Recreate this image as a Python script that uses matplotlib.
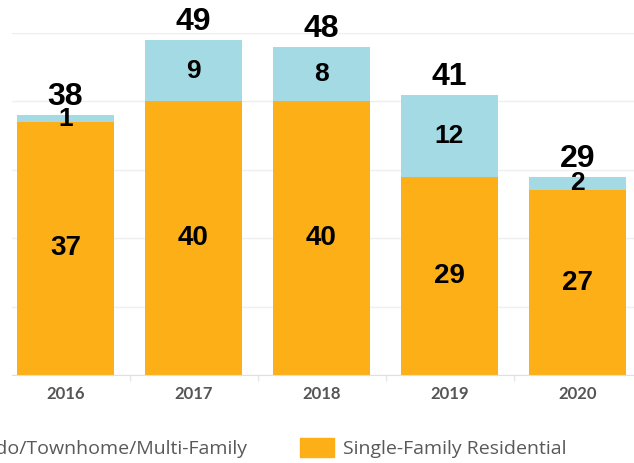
import numpy as np
import matplotlib
matplotlib.use("Agg")
import matplotlib.pyplot as plt
from matplotlib.patches import Rectangle

years = ["2016", "2017", "2018", "2019", "2020"]
single_family = np.array([37, 40, 40, 29, 27])
condo = np.array([1, 9, 8, 12, 2])
totals = single_family + condo
series_names = ["Condo/Townhome/Multi-Family", "Single-Family Residential"]

orange = "#FCAF17"
blue = "#A3DAE3"

W, H = 634, 463
fig = plt.figure(figsize=(W / 100, H / 100), dpi=100)
# axes: left edge at 12px, bottom at 375px, top at 33px
ax = fig.add_axes([12 / W, 1 - 375 / H, 622 / W, 342 / H])

x = np.arange(len(years))
w = 0.76
b1 = ax.bar(x, single_family, w, color=orange, zorder=2)
b2 = ax.bar(x, condo, w, bottom=single_family, color=blue, zorder=2)

num_font = dict(family="Liberation Sans", weight="bold", color="black")
ax.bar_label(b1, labels=[str(v) for v in single_family], label_type="center",
             fontsize=20, **num_font)
ax.bar_label(b2, labels=[str(v) for v in condo], label_type="center",
             fontsize=19, **num_font)
for xi, t in zip(x, totals):
    ax.annotate(str(t), (xi, t), xytext=(0, 2), textcoords="offset points",
                ha="center", va="bottom", fontsize=23, annotation_clip=False,
                **num_font)

ax.set_xlim((12 - 65.5) / 128, (634 - 65.5) / 128)
ax.set_ylim(0, 50)
ax.set_yticks(np.arange(0, 51, 10))
ax.yaxis.grid(True, color="#EFEFEF", linewidth=1, zorder=0)
ax.tick_params(axis="y", left=False, labelleft=False)
ax.set_xticks(x)
ax.set_xticklabels(years, family="Lato", weight="bold", fontsize=12, color="#555555")
ax.tick_params(axis="x", which="major", length=0, pad=8)
ax.set_xticks(x[:-1] + 0.5, minor=True)
ax.tick_params(axis="x", which="minor", length=4, color="#E6E6E6", width=1)
for s in ["top", "right", "left"]:
    ax.spines[s].set_visible(False)
ax.spines["bottom"].set_color("#E0E0E0")

# legend along the bottom, left entry runs off the figure edge as in the source
leg_font = dict(family="Open Sans", size=14, color="#595959", va="center")
fig.patches.append(Rectangle((300 / W, 1 - 457 / H), 34 / W, 19 / H,
                             transform=fig.transFigure, color=orange))
fig.patches.append(Rectangle((-60 / W, 1 - 457 / H), 34 / W, 19 / H,
                             transform=fig.transFigure, color=blue))
fig.text(248 / W, 1 - 449 / H, series_names[0], ha="right", **leg_font)
fig.text(343 / W, 1 - 449 / H, series_names[1], ha="left", **leg_font)

fig.savefig("out.png", dpi=100)
